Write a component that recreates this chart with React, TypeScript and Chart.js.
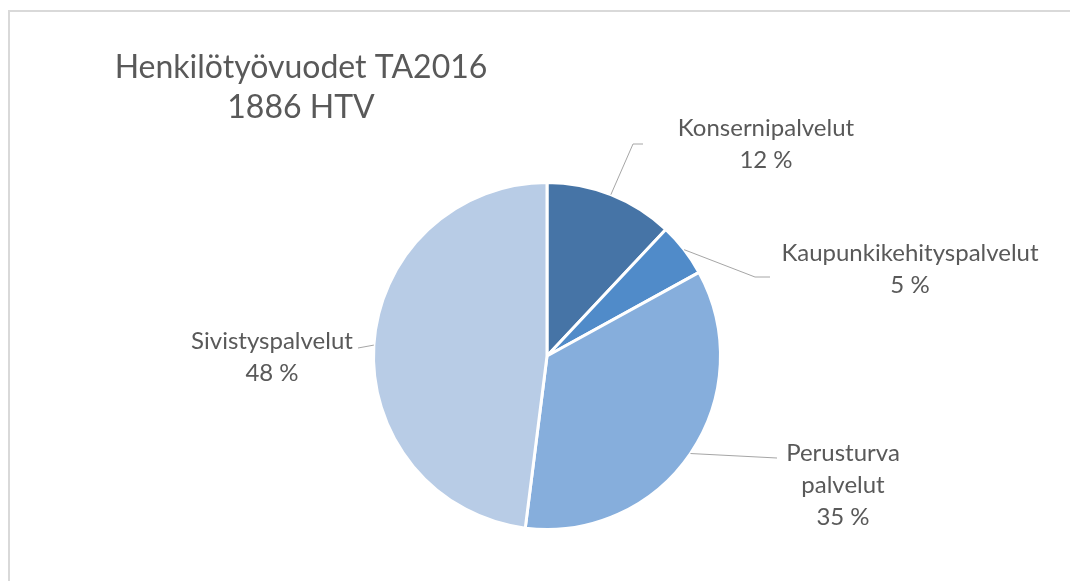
import React, { useEffect, useRef } from 'react';
import { Chart, registerables } from 'chart.js';
Chart.register(...registerables);

const categories = ['Konsernipalvelut', 'Kaupunkikehityspalvelut', 'Perusturva palvelut', 'Sivistyspalvelut'];
const labelLines = [['Konsernipalvelut'], ['Kaupunkikehityspalvelut'], ['Perusturva', 'palvelut'], ['Sivistyspalvelut']];
const shares = [12, 5, 35, 48];
const titleLines = ['Henkilötyövuodet TA2016', '1886 HTV'];
const colors = ['#4674a6', '#508bc9', '#86aedc', '#b8cce6'];

const FONT = 'Lato, "Open Sans", sans-serif';
const TEXT = '#595959';

// label text anchor (centre x, first line y) and leader-line bend points
const labelLayout = [
  { x: 766, y: 128, bends: [[633, 144], [643, 144]] },
  { x: 910, y: 253, bends: [[755, 277], [770, 277]] },
  { x: 843, y: 453, bends: [[777, 458]] },
  { x: 272, y: 341, bends: [[358, 348]] },
];

const decorPlugin = {
  id: 'decor',
  beforeDraw(chart: any) {
    const ctx = chart.ctx;
    ctx.save();
    ctx.fillStyle = '#ffffff';
    ctx.fillRect(0, 0, chart.width, chart.height);
    ctx.fillStyle = '#d9d9d9';
    ctx.fillRect(8, 10, chart.width - 8, 2);
    ctx.fillRect(8, 10, 2, chart.height - 10);
    ctx.restore();
  },
  afterDraw(chart: any) {
    const ctx = chart.ctx;
    ctx.save();
    // title
    ctx.fillStyle = TEXT;
    ctx.textAlign = 'center';
    ctx.textBaseline = 'middle';
    ctx.font = `32px ${FONT}`;
    titleLines.forEach((t, i) => ctx.fillText(t, 301, 68 + i * 40));
    // data labels
    const meta = chart.getDatasetMeta(0);
    const total = shares.reduce((a, b) => a + b, 0);
    meta.data.forEach((arc: any, i: number) => {
      const { x, y, startAngle, endAngle, outerRadius } = arc.getProps(['x', 'y', 'startAngle', 'endAngle', 'outerRadius'], true);
      const mid = (startAngle + endAngle) / 2;
      const px = x + Math.cos(mid) * outerRadius;
      const py = y + Math.sin(mid) * outerRadius;
      const lay = labelLayout[i];
      ctx.strokeStyle = '#a6a6a6';
      ctx.lineWidth = 1;
      ctx.beginPath();
      ctx.moveTo(px, py);
      lay.bends.forEach((b) => ctx.lineTo(b[0], b[1]));
      ctx.stroke();
      ctx.fillStyle = TEXT;
      ctx.font = `24px ${FONT}`;
      const lines = [...labelLines[i], `${Math.round((shares[i] / total) * 100)} %`];
      lines.forEach((t, j) => ctx.fillText(t, lay.x, lay.y + j * 32));
    });
    ctx.restore();
  },
};

export default function App() {
  const ref = useRef<HTMLCanvasElement>(null);
  useEffect(() => {
    document.body.style.margin = '0';
    const chart = new Chart(ref.current!, {
      type: 'pie',
      data: {
        labels: categories,
        datasets: [
          {
            data: shares,
            backgroundColor: colors,
            borderColor: '#ffffff',
            borderWidth: 3,
          },
        ],
      },
      options: {
        animation: false,
        responsive: false,
        devicePixelRatio: 1,
        layout: { padding: { top: 181, bottom: 50, left: 372, right: 348 } },
        plugins: { legend: { display: false }, tooltip: { enabled: false }, title: { display: false } },
      },
      plugins: [decorPlugin],
    });
    return () => chart.destroy();
  }, []);
  return (
    <div style={{ width: 1070, height: 581 }}>
      <canvas ref={ref} width={1070} height={581} style={{ display: 'block' }} />
    </div>
  );
}
